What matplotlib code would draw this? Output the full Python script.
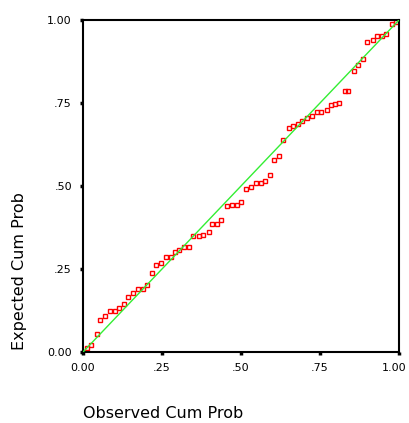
# P-P plot: observed vs expected cumulative probability
import numpy as np
import matplotlib
matplotlib.use('Agg')
import matplotlib.pyplot as plt
from matplotlib.transforms import ScaledTranslation

observed = [0.012, 0.024, 0.043, 0.054, 0.071, 0.085, 0.100, 0.115, 0.131, 0.143,
            0.159, 0.174, 0.189, 0.202, 0.218, 0.232, 0.248, 0.262, 0.279, 0.290,
            0.305, 0.321, 0.336, 0.349, 0.367, 0.381, 0.398, 0.409, 0.423, 0.438,
            0.455, 0.472, 0.486, 0.499, 0.516, 0.532, 0.547, 0.562, 0.575, 0.592,
            0.604, 0.620, 0.634, 0.651, 0.664, 0.679, 0.693, 0.709, 0.724, 0.740,
            0.752, 0.771, 0.785, 0.798, 0.811, 0.829, 0.840, 0.859, 0.870, 0.887,
            0.900, 0.917, 0.930, 0.947, 0.959, 0.978, 0.991]
expected = [0.012, 0.020, 0.055, 0.095, 0.108, 0.124, 0.124, 0.132, 0.144, 0.167,
            0.179, 0.189, 0.191, 0.203, 0.237, 0.262, 0.268, 0.285, 0.285, 0.302,
            0.307, 0.315, 0.315, 0.349, 0.350, 0.353, 0.361, 0.385, 0.385, 0.398,
            0.440, 0.443, 0.444, 0.451, 0.491, 0.498, 0.509, 0.509, 0.516, 0.533,
            0.578, 0.590, 0.639, 0.675, 0.681, 0.687, 0.697, 0.706, 0.711, 0.723,
            0.723, 0.729, 0.744, 0.746, 0.750, 0.787, 0.787, 0.846, 0.864, 0.882,
            0.933, 0.940, 0.952, 0.952, 0.958, 0.988, 0.993]
ticks = [0, 0.25, 0.5, 0.75, 1.0]
tick_labels = ['0.00', '.25', '.50', '.75', '1.00']

fig = plt.figure(figsize=(4.09, 4.23), dpi=100)
ax = fig.add_axes([83/409, 1-352/423, 316/409, 332/423])

ax.plot([0, 1], [0, 1], color='#33ee33', lw=1, zorder=3)
ax.plot(observed, expected, ls='none', marker='s', ms=3.3, mfc='none',
        mec='#ff0000', mew=1.0, zorder=2)

ax.set_xlim(0, 1)
ax.set_ylim(0, 1)
ax.set_xticks(ticks)
ax.set_xticklabels(tick_labels)
ax.set_yticks(ticks)
ax.set_yticklabels(tick_labels)
ax.tick_params(direction='out', length=2, width=2.5, labelsize=8, pad=6)
for s in ax.spines.values():
    s.set_linewidth(1.5)
    s.set_color('black')

# keep the last x tick label inside the figure
last = ax.get_xticklabels()[-1]
last.set_transform(last.get_transform() + ScaledTranslation(-5/100, 0, fig.dpi_scale_trans))

fig.text(83/409, 1-413/423, 'Observed Cum Prob', ha='left', va='center', fontsize=11.5)
fig.text(20/409, 1-350/423, 'Expected Cum Prob', rotation=90, ha='center', va='bottom', fontsize=11.5)

plt.savefig('out.png', dpi=100)
